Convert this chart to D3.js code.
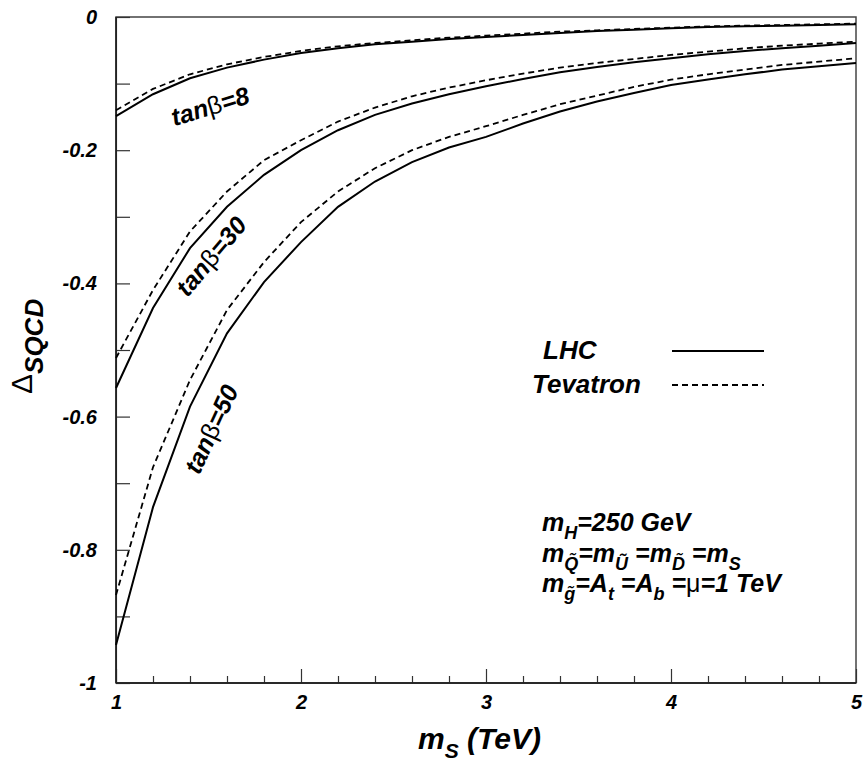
<!DOCTYPE html>
<html>
<head>
<meta charset="utf-8">
<script src="https://cdn.jsdelivr.net/npm/d3@7"></script>
<style>
  body { margin: 0; background: #fff; }
  text { font-family: "Liberation Sans", Arial, sans-serif; font-weight: bold; font-style: italic; fill: #000; }
</style>
</head>
<body>
<svg id="chart" width="864" height="761"></svg>
<script>
// squark mass m_S in TeV
var msValues = [1, 1.2, 1.4, 1.6, 1.8, 2, 2.2, 2.4, 2.6, 2.8, 3, 3.2, 3.4, 3.6, 3.8, 4, 4.2, 4.4, 4.6, 4.8, 5]

// Delta_SQCD
var lhcTan8  = [-0.149, -0.116, -0.092, -0.076, -0.064, -0.054, -0.047, -0.041, -0.037, -0.033, -0.030, -0.027, -0.024, -0.021, -0.019, -0.017, -0.015, -0.014, -0.013, -0.012, -0.011]
var tevTan8  = [-0.140, -0.108, -0.086, -0.071, -0.060, -0.051, -0.044, -0.039, -0.035, -0.031, -0.028, -0.025, -0.022, -0.020, -0.018, -0.016, -0.014, -0.013, -0.012, -0.011, -0.010]
var lhcTan30 = [-0.557, -0.437, -0.347, -0.285, -0.237, -0.200, -0.170, -0.147, -0.130, -0.116, -0.104, -0.093, -0.083, -0.075, -0.068, -0.062, -0.056, -0.051, -0.047, -0.043, -0.039]
var tevTan30 = [-0.512, -0.410, -0.322, -0.262, -0.215, -0.185, -0.157, -0.136, -0.119, -0.106, -0.095, -0.085, -0.076, -0.069, -0.063, -0.057, -0.052, -0.047, -0.043, -0.040, -0.037]
var lhcTan50 = [-0.943, -0.736, -0.585, -0.475, -0.398, -0.338, -0.285, -0.247, -0.218, -0.196, -0.180, -0.160, -0.142, -0.127, -0.114, -0.102, -0.094, -0.086, -0.079, -0.074, -0.069]
var tevTan50 = [-0.868, -0.676, -0.545, -0.440, -0.368, -0.308, -0.262, -0.227, -0.200, -0.180, -0.164, -0.147, -0.131, -0.118, -0.105, -0.094, -0.086, -0.079, -0.072, -0.067, -0.062]

var xMajorTicks = [1, 2, 3, 4, 5]
var xMinorTicks = [1.2, 1.4, 1.6, 1.8, 2.2, 2.4, 2.6, 2.8, 3.2, 3.4, 3.6, 3.8, 4.2, 4.4, 4.6, 4.8]
var yTicks = [-1, -0.9, -0.8, -0.7, -0.6, -0.5, -0.4, -0.3, -0.2, -0.1, 0]

var dimensions = {
    width: 864,
    height: 761,
    margin: { top: 17, bottom: 78, right: 8, left: 116 }
}

var svg = d3.select("#chart")

var xScale = d3.scaleLinear()
               .domain([1, 5])
               .range([dimensions.margin.left, dimensions.width - dimensions.margin.right])

var yScale = d3.scaleLinear()
               .domain([-1, 0])
               .range([dimensions.height - dimensions.margin.bottom, dimensions.margin.top])

var plotBottom = dimensions.height - dimensions.margin.bottom
var plotRight = dimensions.width - dimensions.margin.right

// frame
svg.append("rect")
   .attr("x", dimensions.margin.left)
   .attr("y", dimensions.margin.top)
   .attr("width", plotRight - dimensions.margin.left)
   .attr("height", plotBottom - dimensions.margin.top)
   .attr("fill", "none")
   .attr("stroke", "#444")
   .attr("stroke-width", 1.5)

// y axis, ticks pointing inward
var yAxisGen = d3.axisLeft(yScale)
                 .tickValues(yTicks)
                 .tickSize(-14)
                 .tickPadding(19)
                 .tickFormat(d => Math.round(d * 10) % 2 === 0 ? String(+d.toFixed(1)) : "")
var yAxis = svg.append("g")
               .attr("transform", `translate(${dimensions.margin.left},0)`)
               .call(yAxisGen)

// x axis, major + minor
var xAxisGen = d3.axisBottom(xScale)
                 .tickValues(xMajorTicks)
                 .tickSize(-14)
                 .tickPadding(12)
                 .tickFormat(d3.format("d"))
var xAxis = svg.append("g")
               .attr("transform", `translate(0,${plotBottom})`)
               .call(xAxisGen)

var xMinorGen = d3.axisBottom(xScale)
                  .tickValues(xMinorTicks)
                  .tickSize(-7)
                  .tickFormat("")
var xMinor = svg.append("g")
                .attr("transform", `translate(0,${plotBottom})`)
                .call(xMinorGen)

svg.selectAll(".domain").remove()
svg.selectAll(".tick line").attr("stroke", "#333").attr("stroke-width", 1.2)
svg.selectAll(".tick text")
   .style("font-family", "'Liberation Sans', Arial, sans-serif")
   .style("font-size", "20px")
   .style("font-weight", "bold")
   .style("font-style", "italic")
   .attr("fill", "#000")

svg.append("rect")
   .attr("x", dimensions.margin.left - 0.75)
   .attr("y", dimensions.margin.top)
   .attr("width", 1.8)
   .attr("height", plotBottom - dimensions.margin.top)
   .attr("fill", "#222")
svg.append("rect")
   .attr("x", dimensions.margin.left)
   .attr("y", plotBottom - 0.9)
   .attr("width", plotRight - dimensions.margin.left)
   .attr("height", 1.8)
   .attr("fill", "#222")

// curves
var series = [
    { values: lhcTan8,  dash: null },
    { values: tevTan8,  dash: "6,4" },
    { values: lhcTan30, dash: null },
    { values: tevTan30, dash: "6,4" },
    { values: lhcTan50, dash: null },
    { values: tevTan50, dash: "6,4" }
]

var lineGen = d3.line()
                .x((d, i) => xScale(msValues[i]))
                .y(d => yScale(d))

svg.append("g")
   .selectAll("path")
   .data(series)
   .enter()
   .append("path")
   .attr("d", d => lineGen(d.values))
   .attr("fill", "none")
   .attr("stroke", "#000")
   .attr("stroke-width", d => d.dash ? 1.8 : 2)
   .attr("stroke-dasharray", d => d.dash)

// tan(beta) labels along the curves
var curveLabels = [
    { text: "8",  x: 210, y: 106, angle: -17 },
    { text: "30", x: 211, y: 256, angle: -50 },
    { text: "50", x: 211, y: 429, angle: -65 }
]
curveLabels.forEach(function(c) {
    var t = svg.append("text")
               .attr("transform", `translate(${c.x},${c.y}) rotate(${c.angle})`)
               .attr("text-anchor", "middle")
               .attr("dominant-baseline", "central")
               .style("font-size", "25px")
    t.append("tspan").text("tan")
    t.append("tspan").text("β").style("font-style", "normal").style("font-weight", "normal")
    t.append("tspan").text("=" + c.text)
})

// legend
var legend = [
    { name: "LHC", x: 543, y: 359, dash: null },
    { name: "Tevatron", x: 532, y: 393, dash: "6,4" }
]
legend.forEach(function(l) {
    svg.append("text")
       .attr("x", l.x)
       .attr("y", l.y)
       .style("font-size", "26px")
       .text(l.name)
    svg.append("line")
       .attr("x1", 672).attr("x2", 764)
       .attr("y1", l.y - 8).attr("y2", l.y - 8)
       .attr("stroke", "#000")
       .attr("stroke-width", d => l.dash ? 1.8 : 2)
       .attr("stroke-dasharray", l.dash)
})

// rich text helper: parts = [text, kind] where kind is "sub", "greek" or normal
function richText(x, y, size, parts, transform) {
    var t = svg.append("text")
               .attr("x", x)
               .attr("y", y)
               .style("font-size", size + "px")
    if (transform) t.attr("transform", transform)
    var shift = 0
    parts.forEach(function(p) {
        var s = t.append("tspan").text(p[0])
        var target = p[1] === "sub" ? Math.round(size * 0.3) : 0
        s.attr("dy", target - shift)
        shift = target
        if (p[1] === "sub") s.style("font-size", Math.round(size * 0.7) + "px")
        if (p[1] === "greek") s.style("font-style", "normal").style("font-weight", "normal")
    })
    return t
}

richText(542, 531, 25, [["m"], ["H", "sub"], ["=250 GeV"]])
richText(542, 562, 25, [["m"], ["Q\u0303", "sub"], ["=m"], ["U\u0303", "sub"], [" =m"], ["D\u0303", "sub"], [" =m"], ["S", "sub"]])
richText(542, 592, 25, [["m"], ["g\u0303", "sub"], ["=A"], ["t", "sub"], [" =A"], ["b", "sub"], [" ="], ["\u03bc", "greek"], ["=1 TeV"]])

// axis titles
richText(418, 749, 30, [["m"], ["S", "sub"], [" (TeV)"]])

var yLabel = svg.append("text")
                .attr("transform", "translate(32,394) rotate(-90)")
yLabel.append("tspan").text("\u0394")
      .style("font-size", "30px").style("font-style", "normal").style("font-weight", "normal")
yLabel.append("tspan").text("SQCD")
      .attr("dy", 11)
      .style("font-size", "26px")
</script>
</body>
</html>
